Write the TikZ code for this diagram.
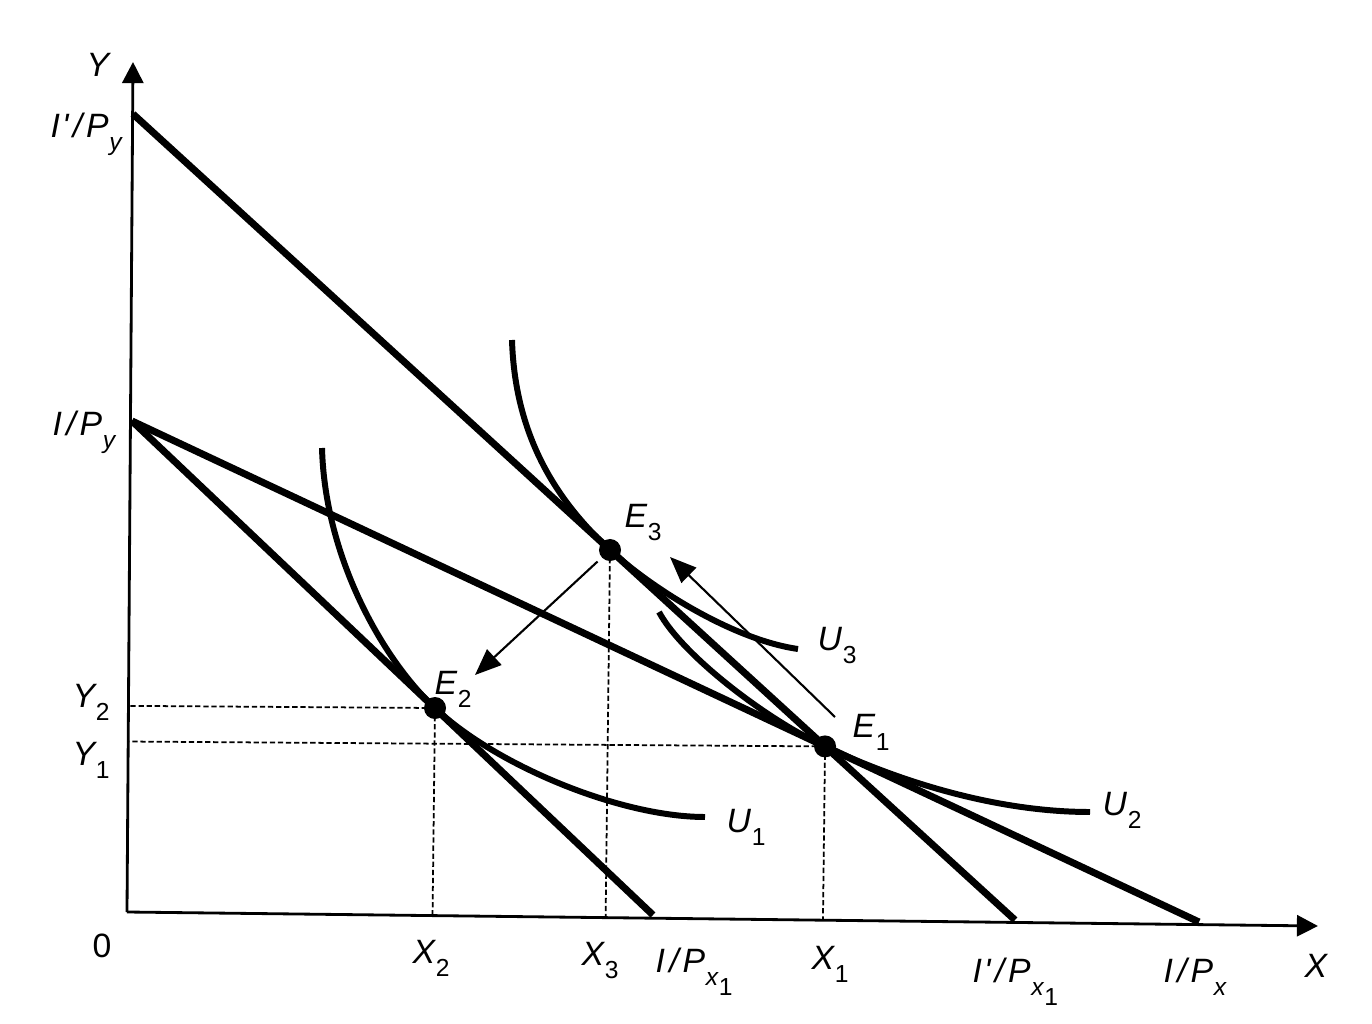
\documentclass[tikz,border=0pt]{standalone}
\usepackage{fontspec}
\setmainfont{Liberation Sans}
\usetikzlibrary{arrows.meta,calc}
\newcommand\sbx[1]{\kern0.2pt\raisebox{-3.8pt}{\fontsize{7}{8}\selectfont #1}}
\newcommand\sbxx[1]{\kern0.2pt\raisebox{-2.8pt}{\fontsize{7}{8}\selectfont #1}}
\newcommand\pr{\kern0.6pt\textquotesingle}
\newcommand\slsh{\kern1.2pt/\kern1.1pt}
\begin{document}
\begin{tikzpicture}[x=0.01cm,y=-0.01cm,
  lbl/.style={anchor=base west,inner sep=0pt,font=\fontsize{9.6}{11}\selectfont\itshape},
  axis/.style={line width=0.8pt,-{Triangle[length=6pt,width=6pt]}},
  budget/.style={line width=2pt},
  icurve/.style={line width=1.7pt},
  guide/.style={line width=0.5pt,dash pattern=on 1.5pt off 0.8pt},
  move/.style={line width=0.6pt,-{Triangle[length=7.5pt,width=6pt]}},
  eq/.style={circle,fill=black,inner sep=0pt,minimum size=0.22cm}]
\fill[white] (0,0) rectangle (1372,1024);
\useasboundingbox (0,0) rectangle (1372,1024);
% axes and budget-line end points
\coordinate (O) at (127,912);
\coordinate (Ytip) at (133,62);
\coordinate (Xtip) at (1318,926);
\coordinate (A) at (133,114);
\coordinate (B) at (1015,920);
\coordinate (C) at (132,421);
\coordinate (D) at (1199,922);
\coordinate (F) at (653,915);
\coordinate (E1c) at (intersection of A--B and C--D);
\coordinate (E2c) at (435,708);
\coordinate (E3c) at (610,550);
\coordinate (m1s) at (835,717);
\coordinate (m1e) at (670,557);
\coordinate (m2e) at (475,675);
% equilibrium dots
\node[eq] (E1) at (E1c) {};
\node[eq] (E2) at (E2c) {};
\node[eq] (E3) at (E3c) {};
% guide lines
\draw[guide] (E2c) -- ($(O)!(E2c)!(Ytip)$);
\draw[guide] (E1c) -- ($(O)!(E1c)!(Ytip)$);
\draw[guide] (E2c) -- ($(O)!(E2c)!(Xtip)$);
\draw[guide] (E3c) -- ($(O)!(E3c)!(Xtip)$);
\draw[guide] (E1c) -- ($(O)!(E1c)!(Xtip)$);
% axes
\draw[axis] (O) -- (Ytip);
\draw[axis] (O) -- (Xtip);
% budget lines
\draw[budget] (A) -- (B);
\draw[budget] (C) -- (D);
\draw[budget] (C) -- (F);
% indifference curves
\draw[icurve] (322,448) .. controls (325,560) and (385,662) .. (E2c)
  .. controls (495,765) and (620,817) .. (705,817);
\draw[icurve] (512,340) .. controls (515,440) and (560,504) .. (E3c)
  .. controls (655,591) and (735,640) .. (798,649);
\draw[icurve] (659,612) .. controls (682,655) and (767,720) .. (E1c)
  .. controls (905,784) and (1000,812) .. (1090,812);
% movement arrows
\draw[move] (m1s) -- (m1e);
\draw[move,shorten <=1.5pt] (E3) -- (m2e);
% labels
\node[lbl] (lY) at (86,77) {Y};
\node[lbl] (lIpPy) at (50,137) {I\pr\slsh P\sbx{y}};
\node[lbl] (lIPy) at (52,435) {I\slsh P\sbx{y}};
\node[lbl] (lY2) at (72,707) {Y\sbx{\upshape 2}};
\node[lbl] (lY1) at (72,765) {Y\sbx{\upshape 1}};
\node[lbl,font=\fontsize{9.6}{11}\selectfont] (l0) at (92,957) {0};
\node[lbl] (lX2) at (412,963) {X\sbx{\upshape 2}};
\node[lbl] (lX3) at (581,965) {X\sbx{\upshape 3}};
\node[lbl] (lIPx1) at (655,972) {I\slsh P\sbx{x\sbxx{\upshape 1}}};
\node[lbl] (lX1) at (811,969) {X\sbx{\upshape 1}};
\node[lbl] (lIpPx1) at (972,982) {I\pr\slsh P\sbx{x\sbxx{\upshape 1}}};
\node[lbl] (lIPx) at (1163,982) {I\slsh P\sbx{x}};
\node[lbl] (lX) at (1304,977) {X};
\node[lbl] (lE3) at (624,527) {E\sbx{\upshape 3}};
\node[lbl] (lE2) at (434,694) {E\sbx{\upshape 2}};
\node[lbl] (lE1) at (852,737) {E\sbx{\upshape 1}};
\node[lbl] (lU3) at (817,650) {U\sbx{\upshape 3}};
\node[lbl] (lU1) at (726,832) {U\sbx{\upshape 1}};
\node[lbl] (lU2) at (1102,815) {U\sbx{\upshape 2}};
\end{tikzpicture}
\end{document}
